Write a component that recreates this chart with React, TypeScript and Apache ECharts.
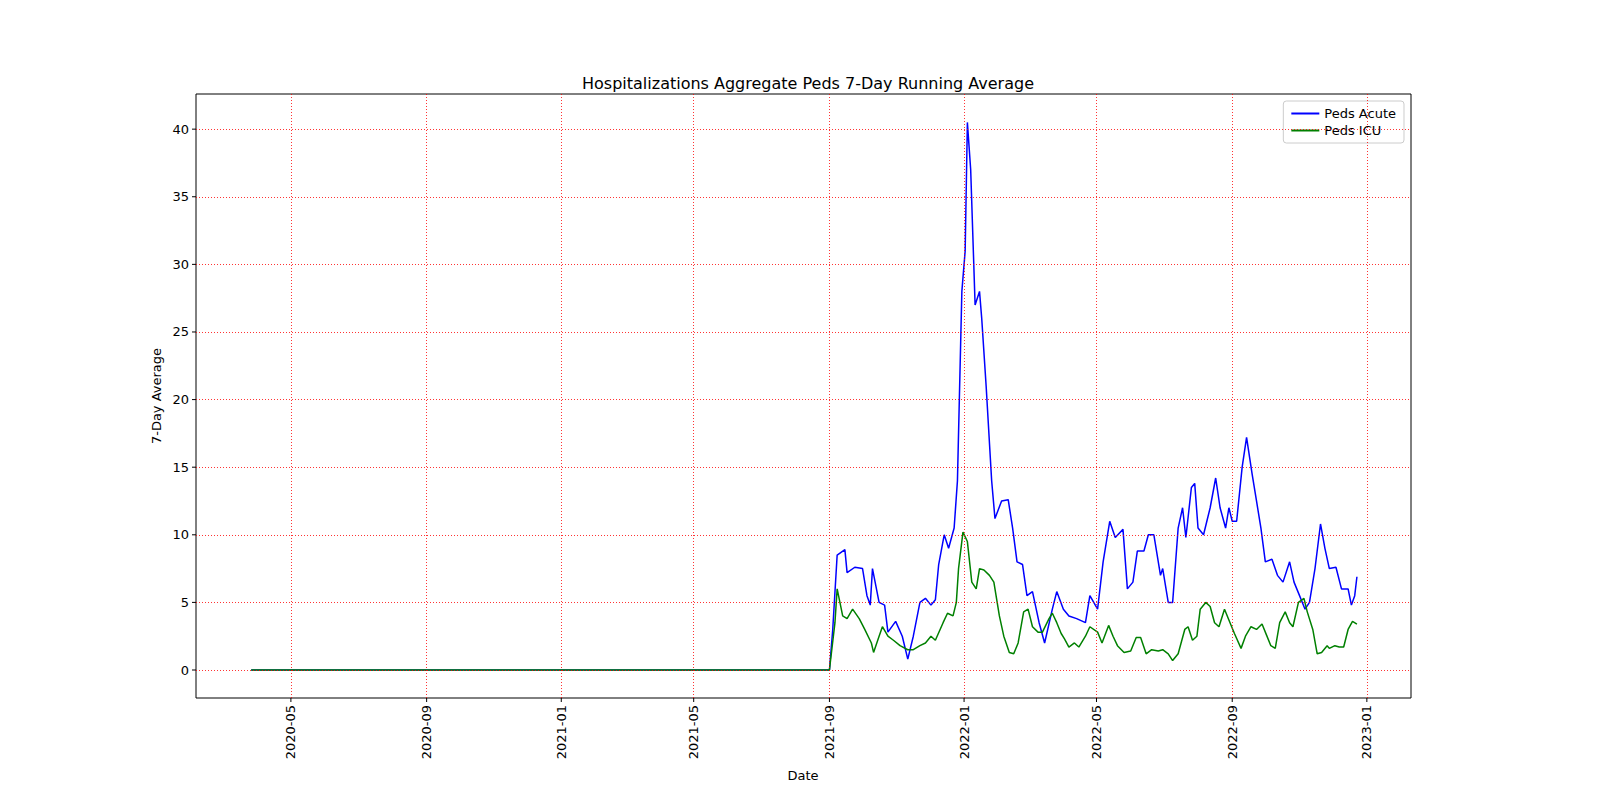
import { useRef, useEffect } from 'react';
import * as echarts from 'echarts';

// zero baseline start, then days after 2021-09-01
const startDate = '2020-03-26';
const baseDate = '2021-09-01';

const acute: [number, number][] = [
  [0, 0], [3, 3], [7, 8.5], [14, 8.9], [16, 7.2], [23, 7.6], [30, 7.5], [34, 5.5], [37, 4.8], [39, 7.5],
  [45, 5.0], [50, 4.8], [53, 2.8], [60, 3.6], [66, 2.5], [71, 0.8], [76, 2.5], [82, 5.0], [87, 5.3], [92, 4.8],
  [96, 5.2], [99, 7.8], [104, 10.0], [108, 9.0], [113, 10.5], [116, 14], [120, 28], [123, 31], [125, 40.5], [128, 37],
  [132, 27], [136, 28], [138, 26], [142, 21], [147, 14], [150, 11.2], [156, 12.5], [162, 12.6], [166, 10.5], [170, 8],
  [175, 7.8], [179, 5.5], [184, 5.8], [190, 3.5], [195, 2.0], [202, 4.5], [206, 5.8], [212, 4.5], [217, 4.0], [224, 3.8],
  [232, 3.5], [236, 5.5], [243, 4.5], [248, 8], [254, 11], [259, 9.8], [266, 10.4], [270, 6], [275, 6.5], [279, 8.8],
  [285, 8.8], [289, 10], [294, 10], [300, 7], [302, 7.5], [307, 5], [311, 5], [316, 10.5], [320, 12], [323, 9.8],
  [328, 13.5], [331, 13.8], [334, 10.5], [339, 10], [342, 11], [345, 12], [350, 14.2], [354, 12], [359, 10.5], [362, 12],
  [365, 11], [369, 11], [374, 15], [378, 17.2], [383, 14.5], [387, 12.5], [391, 10.5], [395, 8], [401, 8.2], [406, 7.0],
  [411, 6.5], [417, 8], [421, 6.5], [426, 5.5], [431, 4.5], [435, 5], [440, 7.5], [445, 10.8], [449, 9], [453, 7.5],
  [459, 7.6], [464, 6], [470, 6], [473, 4.8], [476, 5.5], [478, 6.9],
];

const icu: [number, number][] = [
  [0, 0], [5, 3.5], [7, 6.0], [12, 4.0], [16, 3.8], [21, 4.5], [27, 3.8], [32, 3.0], [38, 2.0], [40, 1.3],
  [45, 2.5], [48, 3.2], [53, 2.5], [58, 2.2], [64, 1.8], [71, 1.5], [76, 1.5], [82, 1.8], [87, 2.0], [92, 2.5],
  [96, 2.2], [103, 3.5], [107, 4.2], [112, 4.0], [115, 5], [117, 7.5], [121, 10.2], [125, 9.5], [129, 6.5], [133, 6],
  [136, 7.5], [140, 7.4], [145, 7], [149, 6.5], [154, 4], [158, 2.5], [163, 1.3], [167, 1.2], [171, 2.0], [176, 4.3],
  [180, 4.5], [184, 3.2], [189, 2.8], [193, 2.8], [199, 3.8], [202, 4.2], [206, 3.5], [210, 2.7], [213, 2.3], [217, 1.7],
  [222, 2.0], [226, 1.7], [232, 2.5], [236, 3.2], [243, 2.8], [247, 2.0], [253, 3.3], [257, 2.5], [261, 1.8], [267, 1.3],
  [273, 1.4], [278, 2.4], [282, 2.4], [287, 1.2], [292, 1.5], [298, 1.4], [302, 1.5], [307, 1.2], [311, 0.7], [316, 1.2],
  [322, 3], [325, 3.2], [329, 2.2], [333, 2.5], [336, 4.5], [341, 5], [345, 4.7], [349, 3.5], [353, 3.2], [358, 4.5],
  [363, 3.5], [367, 2.7], [373, 1.6], [377, 2.5], [382, 3.2], [387, 3.0], [392, 3.4], [396, 2.6], [400, 1.8], [404, 1.6],
  [408, 3.5], [413, 4.3], [417, 3.5], [420, 3.2], [425, 5.0], [430, 5.3], [433, 4.3], [438, 3.0], [442, 1.2], [446, 1.3],
  [451, 1.8], [453, 1.6], [458, 1.8], [462, 1.7], [466, 1.7], [470, 3], [474, 3.6], [478, 3.4],
];

const xTicks = ['2020-05-01', '2020-09-01', '2021-01-01', '2021-05-01', '2021-09-01', '2022-01-01', '2022-05-01', '2022-09-01', '2023-01-01'];
const xTickLabels = ['2020-05', '2020-09', '2021-01', '2021-05', '2021-09', '2022-01', '2022-05', '2022-09', '2023-01'];
const yTicks = [0, 5, 10, 15, 20, 25, 30, 35, 40];

const DAY = 86400000;
const toSeries = (pts: [number, number][]) => {
  const b = new Date(baseDate).getTime();
  return [[new Date(startDate).getTime(), 0], ...pts.map(([d, v]) => [b + d * DAY, v])];
};

const font = 'DejaVu Sans';

export default function App() {
  const ref = useRef<HTMLDivElement>(null);

  useEffect(() => {
    if (!ref.current) return;
    document.body.style.margin = '0';
    document.body.style.overflow = 'hidden';
    const chart = echarts.init(ref.current, null, { renderer: 'svg' });
    const xMin = new Date('2020-02-05').getTime();
    const xMax = new Date('2023-02-10').getTime();
    const grid = { left: 196, right: 189, top: 94, bottom: 102 };
    const gridStyle = { color: '#ff0000', type: [1, 2] as any, width: 0.8 };

    chart.setOption({
      animation: false,
      textStyle: { fontFamily: font },
      title: {
        text: 'Hospitalizations Aggregate Peds 7-Day Running Average',
        left: 803, top: 70, textAlign: 'center',
        textStyle: { fontFamily: font, fontSize: 16, fontWeight: 'normal', color: '#000' },
      },
      legend: {
        orient: 'vertical', right: 196, top: 101, padding: [6, 8], itemGap: 4,
        borderColor: '#ccc', borderWidth: 1, borderRadius: 3,
        itemWidth: 28, itemHeight: 2, icon: 'rect',
        textStyle: { fontFamily: font, fontSize: 13, color: '#000' },
        data: ['Peds Acute', 'Peds ICU'],
      },
      grid: { ...grid, show: true, borderColor: '#000', borderWidth: 1, backgroundColor: 'transparent' },
      xAxis: {
        type: 'time', min: xMin, max: xMax,
        axisLine: { show: false }, axisTick: { show: false }, axisLabel: { show: false }, splitLine: { show: false },
      },
      yAxis: {
        type: 'value', min: -2.07, max: 42.6,
        axisLine: { show: false }, axisTick: { show: false }, axisLabel: { show: false }, splitLine: { show: false },
      },
      series: [
        {
          type: 'line', name: 'grid', data: [], z: 1, silent: true,
          markLine: {
            silent: true, symbol: 'none', label: { show: false }, lineStyle: gridStyle,
            data: [
              ...xTicks.map((t) => ({ xAxis: new Date(t).getTime() })),
              ...yTicks.map((v) => ({ yAxis: v })),
            ],
          },
        },
        {
          type: 'line', name: 'Peds Acute', data: toSeries(acute), showSymbol: false, z: 3,
          lineStyle: { color: '#0000ff', width: 1.5 }, itemStyle: { color: '#0000ff' },
        },
        {
          type: 'line', name: 'Peds ICU', data: toSeries(icu), showSymbol: false, z: 3,
          lineStyle: { color: '#008000', width: 1.5 }, itemStyle: { color: '#008000' },
        },
      ],
    });

    const bottomY = 800 - grid.bottom;
    const leftX = grid.left;
    const elements: any[] = [];
    xTicks.forEach((t, i) => {
      const px = chart.convertToPixel({ xAxisIndex: 0 }, new Date(t).getTime()) as number;
      elements.push({ type: 'line', shape: { x1: px, y1: bottomY, x2: px, y2: bottomY + 4 }, style: { stroke: '#000', lineWidth: 1 } });
      elements.push({
        type: 'text', x: px, y: bottomY + 7, rotation: Math.PI / 2,
        style: { text: xTickLabels[i], fontFamily: font, fontSize: 13, fill: '#000', align: 'right', verticalAlign: 'middle' },
      });
    });
    yTicks.forEach((v) => {
      const py = chart.convertToPixel({ yAxisIndex: 0 }, v) as number;
      elements.push({ type: 'line', shape: { x1: leftX - 4, y1: py, x2: leftX, y2: py }, style: { stroke: '#000', lineWidth: 1 } });
      elements.push({
        type: 'text', x: leftX - 7, y: py,
        style: { text: String(v), fontFamily: font, fontSize: 13, fill: '#000', align: 'right', verticalAlign: 'middle' },
      });
    });
    elements.push({
      type: 'text', x: 803, y: 775,
      style: { text: 'Date', fontFamily: font, fontSize: 13, fill: '#000', align: 'center', verticalAlign: 'middle' },
    });
    elements.push({
      type: 'text', x: 156, y: 396, rotation: Math.PI / 2,
      style: { text: '7-Day Average', fontFamily: font, fontSize: 13, fill: '#000', align: 'center', verticalAlign: 'middle' },
    });
    chart.setOption({ graphic: elements });

    return () => chart.dispose();
  }, []);

  return <div ref={ref} style={{ width: 1600, height: 800 }} />;
}
